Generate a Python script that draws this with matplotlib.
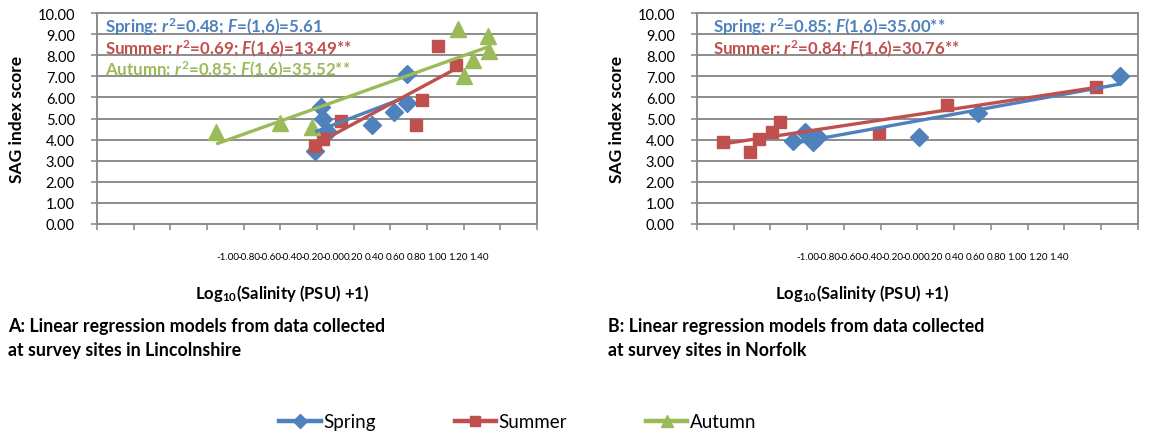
import numpy as np
import matplotlib
matplotlib.use("Agg")
import matplotlib.pyplot as plt
from matplotlib.lines import Line2D

W, H = 1165, 439

plt.rcParams["font.family"] = "Lato"
plt.rcParams["axes.unicode_minus"] = False
plt.rcParams["mathtext.fontset"] = "custom"
plt.rcParams["mathtext.rm"] = "Lato:bold"
plt.rcParams["mathtext.it"] = "Lato:italic:bold"
plt.rcParams["mathtext.bf"] = "Lato:bold"

BLUE = "#4F81BD"
RED = "#C0504D"
GREEN = "#9BBB59"
GRID = "#8C8C8C"

# ---------------------------
# Data
# ---------------------------
# A: Lincolnshire
linc_spring_x = [0.19, 0.22, 0.23, 0.26, 0.50, 0.62, 0.69, 0.69]
linc_spring_y = [3.45, 5.55, 5.00, 4.35, 4.70, 5.30, 5.75, 7.10]
linc_summer_x = [0.19, 0.23, 0.33, 0.74, 0.77, 0.86, 0.96]
linc_summer_y = [3.70, 4.05, 4.90, 4.70, 5.90, 8.45, 7.55]
linc_autumn_x = [-0.35, 0.00, 0.17, 0.97, 1.13, 1.14, 1.05, 1.00]
linc_autumn_y = [4.35, 4.78, 4.60, 9.22, 8.92, 8.22, 7.78, 7.00]

# B: Norfolk
norf_spring_x = [-0.48, -0.41, -0.37, -0.34, 0.21, 0.53, 1.30]
norf_spring_y = [3.95, 4.36, 3.90, 4.12, 4.12, 5.26, 7.00]
norf_summer_x = [-0.86, -0.71, -0.66, -0.59, -0.55, -0.01, 0.36, 1.17]
norf_summer_y = [3.89, 3.42, 4.03, 4.36, 4.83, 4.31, 5.64, 6.50]

linc_stats = [
    "Spring: $r^2$=0.48; $F$=(1,6)=5.61",
    "Summer: $r^2$=0.69; $F$(1,6)=13.49**",
    "Autumn: $r^2$=0.85; $F$(1,6)=35.52**",
]
norf_stats = [
    "Spring: $r^2$=0.85; $F$(1,6)=35.00**",
    "Summer: $r^2$=0.84; $F$(1,6)=30.76**",
]

x_ticks = np.arange(-1.0, 1.41, 0.2)
y_ticks = np.arange(0, 10.1, 1)
x_label = "Log$_{10}$(Salinity (PSU) +1)"
y_label = "SAG index score"
captions = [
    "A: Linear regression models from data collected\nat survey sites in Lincolnshire",
    "B: Linear regression models from data collected\nat survey sites in Norfolk",
]

STYLE = {
    "Spring": dict(color=BLUE, marker="D", ms=9.5),
    "Summer": dict(color=RED, marker="s", ms=9),
    "Autumn": dict(color=GREEN, marker="^", ms=11),
}


def px(x0, y0, x1, y1):
    return [x0 / W, 1 - y1 / H, (x1 - x0) / W, (y1 - y0) / H]


def draw_series(ax, x, y, name):
    st = STYLE[name]
    ax.plot(x, y, linestyle="none", marker=st["marker"], ms=st["ms"],
            color=st["color"], mec=st["color"], zorder=3)
    slope, icpt = np.polyfit(x, y, 1)
    xs = np.array([min(x), max(x)])
    ax.plot(xs, slope * xs + icpt, color=st["color"], lw=2.4,
            solid_capstyle="butt", zorder=4)


def setup_axes(ax):
    ax.set_xlim(-1.0, 1.4)
    ax.set_ylim(0, 10)
    ax.set_xticks(x_ticks)
    ax.set_xticklabels([])
    ax.set_yticks(y_ticks)
    ax.set_yticklabels([f"{v:.2f}" for v in y_ticks], fontsize=10.5)
    ax.tick_params(axis="both", direction="out", length=4, width=1.2, color=GRID)
    ax.tick_params(axis="y", pad=12)
    ax.grid(axis="y", color=GRID, lw=1.4)
    ax.set_axisbelow(True)
    for s in ax.spines.values():
        s.set_color(GRID)
        s.set_linewidth(1.4)
    ax.set_ylabel(y_label, fontsize=12.5, fontweight="bold", labelpad=9)


def tick_label_axes(fig, x0, x1):
    # x tick labels sit on their own narrower strip, as in the source figure
    lab = fig.add_axes(px(x0, 250, x1, 251))
    lab.set_xlim(-1.0, 1.4)
    lab.set_xticks(x_ticks)
    lab.set_xticklabels([f"{v:.2f}" for v in x_ticks], fontsize=7.1)
    lab.tick_params(axis="x", length=0, pad=1.5)
    lab.set_yticks([])
    for s in lab.spines.values():
        s.set_visible(False)
    lab.patch.set_visible(False)


fig = plt.figure(figsize=(W / 100, H / 100), dpi=100)

ax_a = fig.add_axes(px(97, 14, 537, 225))
setup_axes(ax_a)
draw_series(ax_a, linc_spring_x, linc_spring_y, "Spring")
draw_series(ax_a, linc_summer_x, linc_summer_y, "Summer")
draw_series(ax_a, linc_autumn_x, linc_autumn_y, "Autumn")
for i, (txt, c) in enumerate(zip(linc_stats, [BLUE, RED, GREEN])):
    ax_a.text(0.018, 0.936 - i * 0.102, txt, transform=ax_a.transAxes, color=c,
              fontsize=12.2, fontweight="bold", va="center", ha="left", zorder=5)

ax_b = fig.add_axes(px(697, 14, 1138, 225))
setup_axes(ax_b)
draw_series(ax_b, norf_spring_x, norf_spring_y, "Spring")
draw_series(ax_b, norf_summer_x, norf_summer_y, "Summer")
for i, (txt, c) in enumerate(zip(norf_stats, [BLUE, RED])):
    ax_b.text(0.036, 0.936 - i * 0.102, txt, transform=ax_b.transAxes, color=c,
              fontsize=12.2, fontweight="bold", va="center", ha="left", zorder=5)

tick_label_axes(fig, 228, 479)
tick_label_axes(fig, 808, 1059)

fig.text(282 / W, 1 - 293 / H, x_label, fontsize=12, fontweight="bold",
         ha="center", va="center")
fig.text(862 / W, 1 - 293 / H, x_label, fontsize=12, fontweight="bold",
         ha="center", va="center")

fig.text(8 / W, 1 - 339 / H, captions[0], fontsize=12.8, fontweight="bold",
         ha="left", va="center", linespacing=1.5)
fig.text(608 / W, 1 - 339 / H, captions[1], fontsize=12.8, fontweight="bold",
         ha="left", va="center", linespacing=1.5)

handles = [
    Line2D([], [], color=STYLE[n]["color"], marker=STYLE[n]["marker"],
           ms=STYLE[n]["ms"] * 0.8, lw=3.2, label=n)
    for n in ["Spring", "Summer", "Autumn"]
]
fig.legend(handles=handles, loc="center", bbox_to_anchor=(518 / W, 1 - 423 / H),
           ncol=3, frameon=False, fontsize=13.5, handlelength=2.2,
           handletextpad=0.15, columnspacing=4.2, numpoints=1)

fig.savefig("out.png", dpi=100)
